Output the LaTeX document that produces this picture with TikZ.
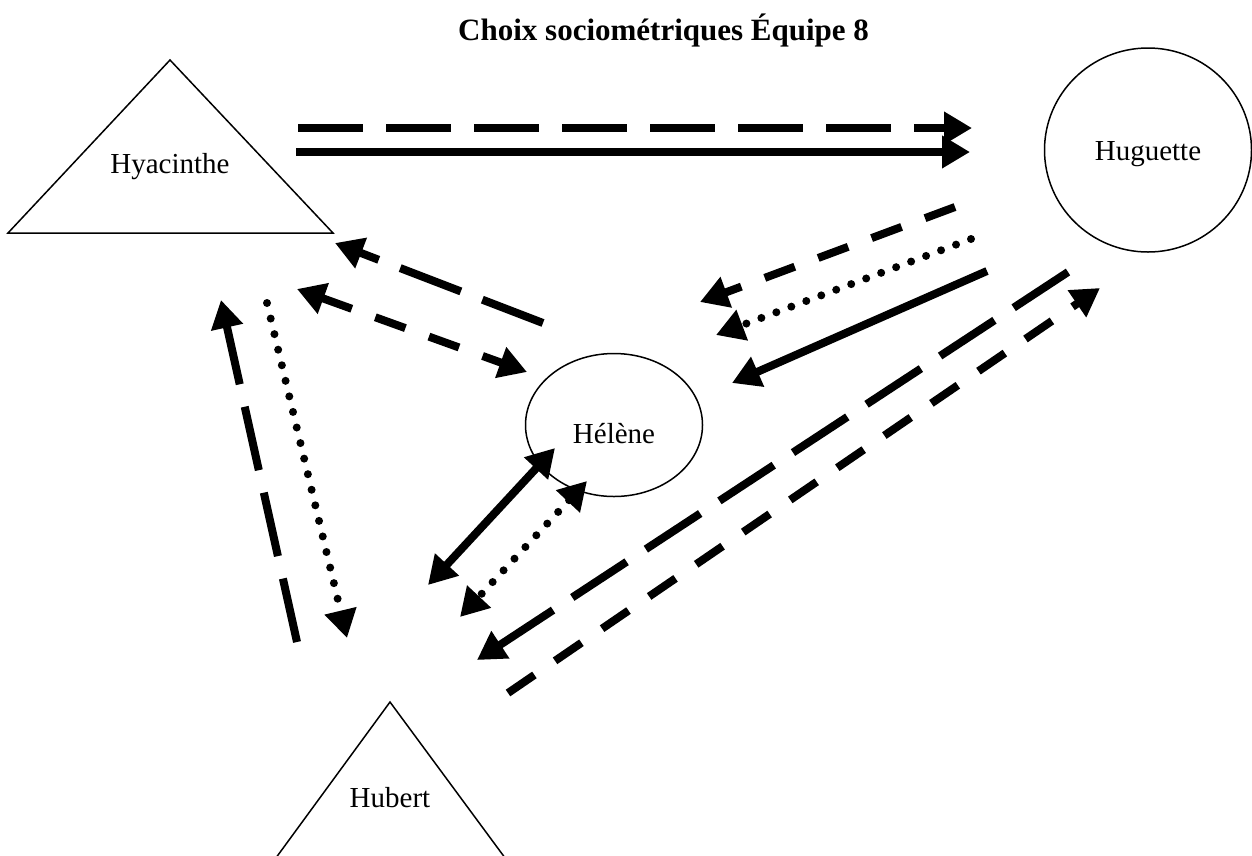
\documentclass[tikz,border=0pt]{standalone}
\usepackage{fontspec}
\setmainfont{Liberation Serif}
\usetikzlibrary{arrows.meta,shapes.geometric}
\begin{document}
\begin{tikzpicture}[x=1pt,y=-1pt,
  lbl/.style={font=\fontsize{29}{34}\selectfont, inner sep=0pt},
  shapeline/.style={line width=1.5pt, line join=miter},
  conn/.style={line width=8pt, -{Triangle[length=28pt,width=31pt]}},
  conn2/.style={line width=8pt, {Triangle[length=28pt,width=31pt]}-{Triangle[length=28pt,width=31pt]}},
  longdash/.style={dash pattern=on 65pt off 23pt},
  meddash/.style={dash pattern=on 32pt off 25pt},
  dotline/.style={line cap=round, dash pattern=on 0pt off 16pt}]
\useasboundingbox (0,0) rectangle (1252,855);
\clip (0,0) rectangle (1252,855);

% title
\node[anchor=base west, inner sep=0pt, font=\fontsize{31}{36}\selectfont\bfseries] (title) at (458,40) {Choix sociométriques Équipe 8};

% Hyacinthe
\draw[shapeline] (8,233) -- (170,60) -- (333,233) -- cycle;
\node[lbl] (hya) at (170,167) {Hyacinthe};

% Huguette
\node[draw, ellipse, line width=1.5pt, minimum width=207pt, minimum height=204pt, inner sep=0pt, font=\fontsize{29}{34}\selectfont] (hug) at (1148,150) {\raisebox{-10pt}[0pt][0pt]{Huguette}};

% Helene
\node[draw, ellipse, line width=1.5pt, minimum width=177pt, minimum height=143pt, inner sep=0pt, font=\fontsize{29}{34}\selectfont] (hel) at (614,425) {\raisebox{-18pt}[0pt][0pt]{Hélène}};

% Hubert
\draw[shapeline] (270,866) -- (390,702) -- (511,866);
\node[lbl] (hub) at (390,798) {Hubert};

% arrow end points
\coordinate (a1s) at (298,128);  \coordinate (a1e) at (972,128);
\coordinate (a2s) at (296,152);  \coordinate (a2e) at (970,152);
\coordinate (a3s) at (955,207);  \coordinate (a3e) at (700,302);
\coordinate (a4s) at (971,239);  \coordinate (a4e) at (716,335);
\coordinate (a5s) at (987,271);  \coordinate (a5e) at (732,383);
\coordinate (a6s) at (543,323);  \coordinate (a6e) at (335,243);
\coordinate (a7s) at (297,289);  \coordinate (a7e) at (527,372);
\coordinate (a8s) at (555,448);  \coordinate (a8e) at (428,585);
\coordinate (a9s) at (587,481);  \coordinate (a9e) at (460,617);
\coordinate (a10s) at (297,642); \coordinate (a10e) at (221,300);
\coordinate (a11s) at (267,303); \coordinate (a11e) at (347,638);
\coordinate (a12s) at (1068,272); \coordinate (a12e) at (477,660);
\coordinate (a13s) at (508,693); \coordinate (a13e) at (1100,288);

% arrows
\draw[conn, longdash] (a1s) -- (a1e);
\draw[conn] (a2s) -- (a2e);
\draw[conn, meddash] (a3s) -- (a3e);
\draw[conn, dotline] (a4s) -- (a4e);
\draw[conn] (a5s) -- (a5e);
\draw[conn, longdash] (a6s) -- (a6e);
\draw[conn2, meddash] (a7s) -- (a7e);
\draw[conn2] (a8s) -- (a8e);
\draw[conn2, dotline] (a9s) -- (a9e);
\draw[conn, longdash] (a10s) -- (a10e);
\draw[conn, dotline] (a11s) -- (a11e);
\draw[conn, longdash] (a12s) -- (a12e);
\draw[conn, meddash] (a13s) -- (a13e);
\end{tikzpicture}
\end{document}
